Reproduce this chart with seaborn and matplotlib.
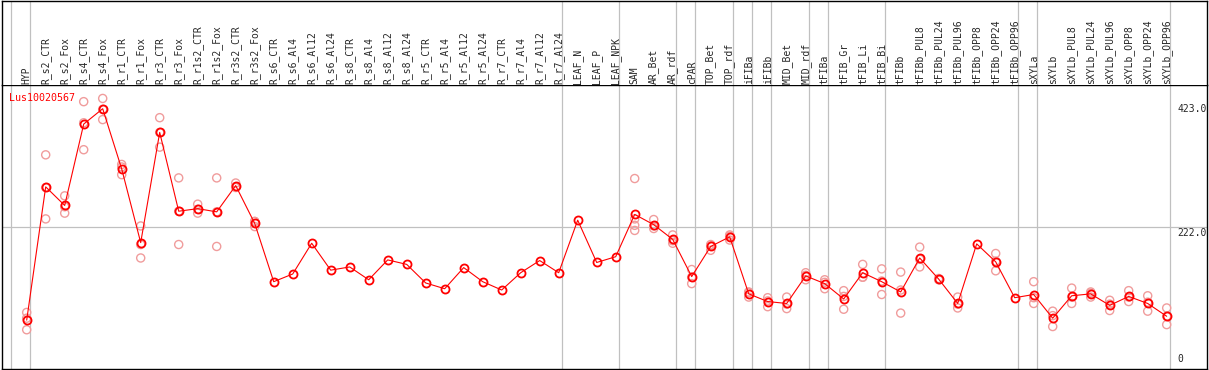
import matplotlib
matplotlib.use("Agg")
import matplotlib.pyplot as plt
import matplotlib.transforms as mtransforms
import pandas as pd
import seaborn as sns

# %% data
samples = ["HYP",
           "R_s2_CTR", "R_s2_Fox", "R_s4_CTR", "R_s4_Fox", "R_r1_CTR", "R_r1_Fox",
           "R_r3_CTR", "R_r3_Fox", "R_r1s2_CTR", "R_r1s2_Fox", "R_r3s2_CTR", "R_r3s2_Fox",
           "R_s6_CTR", "R_s6_Al4", "R_s6_Al12", "R_s6_Al24",
           "R_s8_CTR", "R_s8_Al4", "R_s8_Al12", "R_s8_Al24",
           "R_r5_CTR", "R_r5_Al4", "R_r5_Al12", "R_r5_Al24",
           "R_r7_CTR", "R_r7_Al4", "R_r7_Al12", "R_r7_Al24",
           "LEAF_N", "LEAF_P", "LEAF_NPK",
           "SAM", "AR_Bet", "AR_rdf", "cPAR", "TOP_Bet", "TOP_rdf",
           "iFIBa", "iFIBb", "MID_Bet", "MID_rdf",
           "tFIBa", "tFIB_Gr", "tFIB_Li", "tFIB_Bi",
           "tFIBb", "tFIBb_PUL8", "tFIBb_PUL24", "tFIBb_PUL96",
           "tFIBb_OPP8", "tFIBb_OPP24", "tFIBb_OPP96",
           "sXYLa", "sXYLb", "sXYLb_PUL8", "sXYLb_PUL24", "sXYLb_PUL96",
           "sXYLb_OPP8", "sXYLb_OPP24", "sXYLb_OPP96"]

means = [77, 285, 256, 383, 407, 313, 198, 370, 247, 251, 246, 287, 228,
         137, 149, 197, 155, 160, 140, 171, 164, 135, 126, 159, 137,
         124, 151, 170, 151, 233, 167, 176,
         242, 226, 203, 145, 192, 207, 118, 106, 103, 146,
         134, 110, 151, 137, 121, 174, 141, 103, 196, 168, 112,
         117, 80, 115, 118, 100, 114, 103, 83]

replicates = [[89, 80, 62], [335, 284, 235], [271, 254, 244], [418, 385, 343],
              [423, 406, 390], [320, 316, 304], [224, 195, 174], [393, 370, 347],
              [299, 247, 195], [258, 250, 244], [299, 246, 192], [291, 285, 284],
              [231, 231, 223],
              [], [], [], [], [], [], [], [], [], [], [], [], [], [], [], [],
              [], [], [],
              [298, 235, 225, 217], [234, 224, 220], [210, 201, 197],
              [156, 144, 134], [195, 193, 186], [210, 208, 202],
              [121, 120, 113], [112, 107, 98], [113, 102, 95], [151, 147, 140],
              [140, 136, 126], [123, 114, 94], [164, 144, 144], [157, 138, 117],
              [152, 124, 88], [191, 172, 160], [142, 141, 140], [113, 102, 96],
              [], [181, 169, 154], [],
              [137, 112, 103], [91, 84, 67], [127, 113, 103], [121, 119, 113],
              [108, 102, 92], [123, 113, 106], [115, 105, 91], [96, 83, 70]]

# groups end after these samples (a separator is also drawn before the first)
group_ends = ["HYP", "R_r7_Al24", "LEAF_NPK", "AR_rdf", "cPAR", "TOP_rdf",
              "iFIBa", "iFIBb", "MID_rdf", "tFIBa", "tFIB_Bi", "tFIBb_OPP96",
              "sXYLa", "sXYLb_OPP96"]

y_labels = [423.0, 222.0, 0]
gene = "Lus10020567"

# %%
mean_df = pd.DataFrame({"pos": range(len(samples)), "value": means})
rep_df = pd.DataFrame([(i, v) for i, reps in enumerate(replicates) for v in reps],
                      columns=["pos", "value"])

sns.set_style("white")
plt.rcParams["font.family"] = ["DejaVu Sans Mono", "DejaVu Sans"]

W, H = 1209, 370
fig = plt.figure(figsize=(W / 100, H / 100), dpi=100)
ax = fig.add_axes([1.5 / W, 1.5 / H, 1205.5 / W, 283.5 / H])
hax = fig.add_axes([1.5 / W, 285 / H, 1205.5 / W, 84.5 / H], sharex=ax)

gray = "#c0c0c0"
seps = [-1] + [samples.index(s) for s in group_ends]
for s in seps:
    ax.axvline(s + 0.19, color=gray, lw=0.9, zorder=0)
    hax.axvline(s + 0.19, color=gray, lw=0.9, zorder=0)
ax.axhline(222, color=gray, lw=0.9, zorder=0)

sns.scatterplot(data=rep_df, x="pos", y="value", ax=ax, marker="o", s=34,
                facecolors="none", edgecolor="#f09c9c", linewidth=1.0, zorder=2)
sns.lineplot(data=mean_df, x="pos", y="value", ax=ax, color="red", lw=0.8,
             marker="o", markersize=5.8, markerfacecolor="none",
             markeredgecolor="red", markeredgewidth=1.3, zorder=3)

ax.set_xlim((1.5 - 26.7) / 19, (1207 - 26.7) / 19)
ax.set_ylim(1.5, 444)
for a in (ax, hax):
    a.set_xticks([])
    a.set_yticks([])
    a.set_xlabel("")
    a.set_ylabel("")
    for sp in a.spines.values():
        sp.set_color("black")
        sp.set_linewidth(1.0)
hax.spines["bottom"].set_visible(False)

htrans = mtransforms.blended_transform_factory(hax.transData, hax.transAxes)
for i, name in enumerate(samples):
    hax.text(i, 1.5 / 84.5, name, transform=htrans, rotation=90,
             ha="center", va="bottom", fontsize=7)

ax.text(8.0 / 1206, 1 - 8 / 284, gene, transform=ax.transAxes, color="red",
        ha="left", va="top", fontsize=7.2)

rtrans = mtransforms.blended_transform_factory(ax.transAxes, ax.transData)
offsets = {423.0: (-6, "top"), 222.0: (-1, "top"), 0: (5, "bottom")}
for v in y_labels:
    dy, va = offsets[v]
    txt = f"{v:.1f}" if v else "0"
    ax.annotate(txt, xy=(1176.5 / 1206, v), xycoords=rtrans,
                xytext=(0, dy), textcoords="offset pixels",
                ha="left", va=va, fontsize=7, annotation_clip=False,
                clip_on=True)

fig.savefig("out.png", dpi=100)
